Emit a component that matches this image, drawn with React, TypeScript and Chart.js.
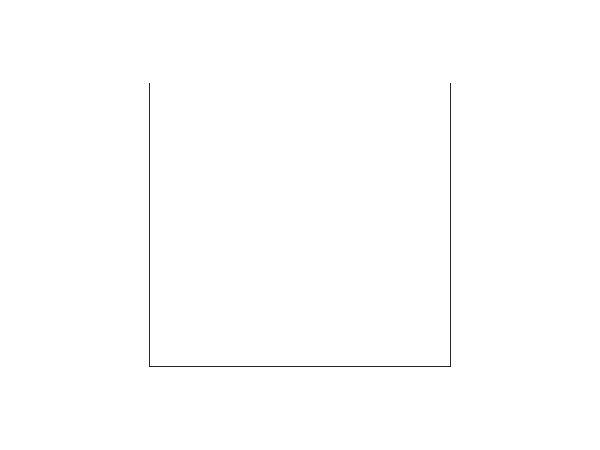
import { useEffect, useRef } from "react";
import { Chart, registerables } from "chart.js";

Chart.register(...registerables);

// The chart holds no data: only the frame is drawn
const categories: string[] = [];
const seriesValues: number[] = [];
const xRange = [0, 1];
const yRange = [0, 1];

const axisColor = "#262626";

export default function App() {
  const chartRef = useRef<HTMLCanvasElement>(null);
  const chartInstance = useRef<Chart | null>(null);

  useEffect(() => {
    if (!chartRef.current) return;
    if (chartInstance.current) {
      chartInstance.current.destroy();
    }
    const ctx = chartRef.current.getContext("2d");
    if (!ctx) return;

    const hiddenAxis = (position: "left" | "right" | "bottom", range: number[]) => ({
      type: "linear" as const,
      position,
      min: range[0],
      max: range[1],
      grid: { display: false, drawTicks: false },
      ticks: { display: false },
      border: { display: true, color: axisColor, width: 1 }
    });

    chartInstance.current = new Chart(ctx, {
      type: "line",
      data: {
        labels: categories,
        datasets: [
          {
            label: "",
            data: seriesValues,
            yAxisID: "y"
          }
        ]
      },
      options: {
        responsive: true,
        maintainAspectRatio: false,
        animation: false,
        layout: {
          padding: { left: 149, right: 150, top: 83, bottom: 84 }
        },
        plugins: {
          legend: { display: false },
          tooltip: { enabled: false }
        },
        scales: {
          x: hiddenAxis("bottom", xRange),
          y: hiddenAxis("left", yRange),
          y2: hiddenAxis("right", yRange)
        }
      }
    });

    return () => {
      if (chartInstance.current) {
        chartInstance.current.destroy();
        chartInstance.current = null;
      }
    };
  }, []);

  return (
    <div
      style={{
        position: "fixed",
        left: 0,
        top: 0,
        width: 600,
        height: 450,
        background: "#ffffff"
      }}
    >
      <canvas ref={chartRef} />
    </div>
  );
}
